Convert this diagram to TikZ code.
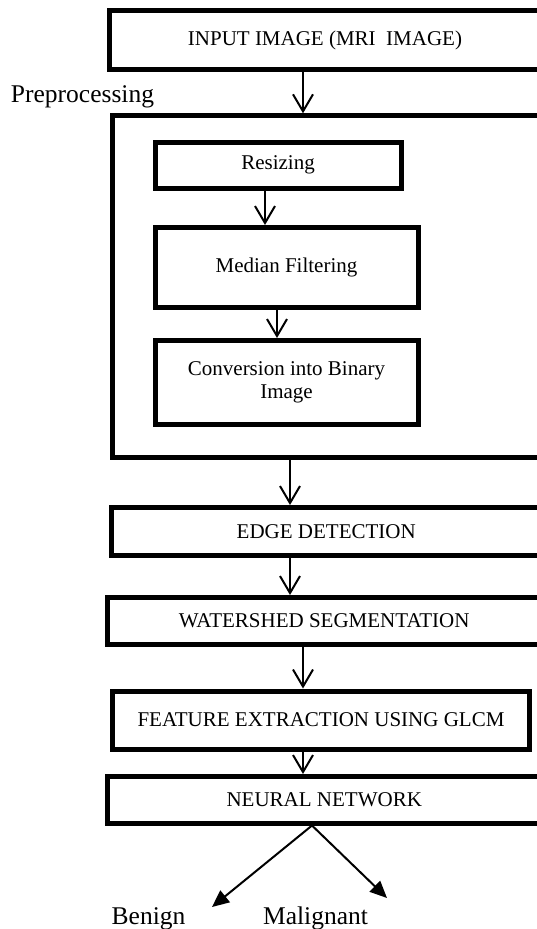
\documentclass[tikz,border=0pt]{standalone}
\usepackage{fontspec}
\setmainfont{Liberation Serif}
\usetikzlibrary{arrows.meta,positioning}
\newcommand{\boxfont}{\fontsize{21}{23}\selectfont}
\newcommand{\lblfont}{\fontsize{25.5}{29}\selectfont}

\begin{document}
\begin{tikzpicture}[
  x=1pt, y=-1pt,
  box/.style={draw, line width=5pt, inner sep=0pt, align=center, font=\boxfont},
  lbl/.style={inner sep=0pt, font=\lblfont},
  arr/.style={line width=2pt, -{Straight Barb[length=17pt,width=20pt,line width=2pt]}},
  outarr/.style={line width=2pt, -{Triangle[length=17pt,width=15pt]}}
]
\useasboundingbox (0,0) rectangle (537,929);
\clip (0,0) rectangle (537,929);
% main chain
\node[box, minimum width=432pt, minimum height=58.4pt] (inp) at (325,40) {INPUT IMAGE (MRI~~IMAGE)};
\node[box, minimum width=429pt, minimum height=341.7pt] (pre) at (326.5,286.65) {};
\node[lbl, anchor=base] (prep) at (82.5,102) {Preprocessing};
% preprocessing steps
\node[box, minimum width=246pt, minimum height=46pt] (res) at (278,165) {Resizing};
\node[box, minimum width=263pt, minimum height=80pt] (med) at (286.5,267.5) {Median Filtering};
\node[box, minimum width=263pt, minimum height=83.5pt] (bin) at (286.5,382.25) {Conversion into Binary\\Image};
% later stages
\node[box, minimum width=429.5pt, minimum height=48pt] (edge) at (326.25,531.5) {EDGE DETECTION};
\node[box, minimum width=433.5pt, minimum height=46.5pt] (ws) at (324.25,620.75) {WATERSHED SEGMENTATION};
\node[box, minimum width=417pt, minimum height=58pt] (feat) at (321,720) {FEATURE EXTRACTION USING GLCM};
\node[box, minimum width=433.5pt, minimum height=46.5pt] (nn) at (324.25,799.75) {NEURAL NETWORK};
% outputs
\node[lbl, anchor=base] (ben) at (148.5,924) {Benign};
\node[lbl, anchor=base] (mal) at (315.5,924) {Malignant};
\coordinate (bt) at (212,907);
\coordinate (mt) at (387,898);

\draw[arr] (inp.south -| 303,0) -- (pre.north -| 303,0);
\draw[arr] (res.south -| 265,0) -- (med.north -| 265,0);
\draw[arr] (med.south -| 277,0) -- (bin.north -| 277,0);
\draw[arr] (pre.south -| 290,0) -- (edge.north -| 290,0);
\draw[arr] (edge.south -| 290,0) -- (ws.north -| 290,0);
\draw[arr] (ws.south -| 303,0) -- (feat.north -| 303,0);
\draw[arr] (feat.south -| 303,0) -- (nn.north -| 303,0);
\draw[outarr] (nn.south -| 312,0) -- (bt);
\draw[outarr] (nn.south -| 312,0) -- (mt);
\end{tikzpicture}
\end{document}
